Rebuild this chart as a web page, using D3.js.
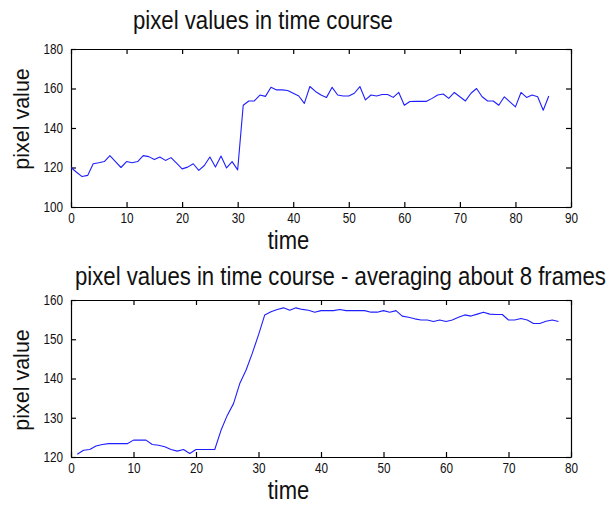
<!DOCTYPE html>
<html>
<head>
<meta charset="utf-8">
<script src="https://cdn.jsdelivr.net/npm/d3@7"></script>
<style>
  html, body { margin: 0; padding: 0; background: #fff; }
  svg { display: block; }
  text { font-family: "Liberation Sans", Arial, sans-serif; fill: #111; }
  .domain, .tick line { stroke: #000; }
</style>
</head>
<body>
<svg id="chart" width="614" height="506"></svg>
<script>
// Raw pixel intensity per frame (frames 0..86)
const rawTime = d3.range(0, 87);
const rawValues = [
  120, 117.6, 115.4, 116, 121.9, 122.4, 123, 126, 123, 120,
  123, 122.4, 123, 126, 125.5, 124, 125.3, 123.6, 125, 122.2,
  119.3, 120.2, 121.9, 118.5, 121, 125.3, 120.2, 125.8, 119.8, 123,
  118.8, 151.5, 153.7, 153.7, 156.7, 156, 160.6, 159.3, 159.3, 159,
  157.6, 156.2, 152.5, 161, 158.5, 156.7, 155.5, 160.6, 156.7, 156.2,
  156.2, 157.6, 161, 154.2, 156.7, 156.2, 157, 157, 155.5, 158,
  151.5, 153.4, 153.5, 153.5, 153.5, 155, 156.7, 157.2, 155, 158,
  155.8, 153.7, 157.6, 160, 155.8, 153.7, 153.7, 151.5, 155.8, 153.2,
  150.7, 158, 155.5, 156.7, 155.8, 149, 156.2
];

// Moving average over ~8 frames (samples 1..78)
const avgTime = d3.range(1, 79);
const avgValues = [
  120.7, 121.7, 121.9, 122.8, 123.2, 123.4, 123.4, 123.4, 123.4, 124.3,
  124.3, 124.3, 123.2, 123, 122.6, 121.9, 121.5, 121.9, 120.9, 121.9,
  121.9, 121.9, 121.9, 126.8, 130.6, 133.6, 138.7, 142.1, 146.4, 151.1,
  156.2, 157, 157.6, 158, 157.4, 158, 157.6, 157.4, 156.9, 157.3,
  157.3, 157.3, 157.6, 157.3, 157.3, 157.3, 157.3, 156.9, 156.9, 157.3,
  156.9, 157.3, 155.9, 155.6, 155.2, 154.9, 154.9, 154.5, 154.9, 154.5,
  154.9, 155.6, 156.2, 155.9, 156.4, 156.9, 156.4, 156.3, 156.3, 154.9,
  154.9, 155.3, 154.9, 154, 154, 154.6, 154.9, 154.5
];

// Tick values for each panel
const rawXTicks = [0, 10, 20, 30, 40, 50, 60, 70, 80, 90];
const rawYTicks = [100, 120, 140, 160, 180];
const avgXTicks = [0, 10, 20, 30, 40, 50, 60, 70, 80];
const avgYTicks = [120, 130, 140, 150, 160];

const titles = ["pixel values in time course",
                "pixel values in time course - averaging about 8 frames"];
const xLabel = "time";
const yLabel = "pixel value";

const svg = d3.select("#chart");
const SQ = 0.84;  // narrow-glyph squeeze used for tick labels
const TSQ = 0.88; // squeeze for titles and x labels

function panel(cfg) {
  const x = d3.scaleLinear().domain(cfg.xDomain).range([cfg.left, cfg.right]);
  const y = d3.scaleLinear().domain(cfg.yDomain).range([cfg.bottom, cfg.top]);
  const g = svg.append("g");

  // bottom axis with labels, ticks pointing inward
  const bx = g.append("g").attr("transform", `translate(0,${cfg.bottom})`)
    .call(d3.axisBottom(x).tickValues(cfg.xTicks).tickSizeInner(-5).tickSizeOuter(0).tickPadding(6).tickFormat(d3.format("d")));
  // top axis, ticks only
  g.append("g").attr("transform", `translate(0,${cfg.top})`)
    .call(d3.axisTop(x).tickValues(cfg.xTicks).tickSizeInner(-5).tickSizeOuter(0).tickFormat(""));
  // left axis with labels
  const ly = g.append("g").attr("transform", `translate(${cfg.left},0)`)
    .call(d3.axisLeft(y).tickValues(cfg.yTicks).tickSizeInner(-5).tickSizeOuter(0).tickPadding(8).tickFormat(d3.format("d")));
  // right axis, ticks only
  g.append("g").attr("transform", `translate(${cfg.right},0)`)
    .call(d3.axisRight(y).tickValues(cfg.yTicks).tickSizeInner(-5).tickSizeOuter(0).tickFormat(""));

  g.selectAll(".domain").attr("stroke-width", 1.2);
  g.selectAll(".tick line").attr("stroke-width", 1.2);

  bx.selectAll("text").attr("font-size", 14).attr("font-family", null)
    .attr("transform", `scale(${SQ},1)`).attr("fill", "#222");
  ly.selectAll("text").attr("font-size", 14).attr("font-family", null)
    .attr("x", -8 / SQ).attr("transform", `scale(${SQ},1)`).attr("fill", "#222");

  // data line
  const line = d3.line().x((d, i) => x(cfg.xs[i])).y(d => y(d));
  g.append("path").datum(cfg.values)
    .attr("fill", "none").attr("stroke", "#1f1fff").attr("stroke-width", 1.1)
    .attr("stroke-linejoin", "round").attr("d", line);

  // title
  g.append("text")
    .attr("transform", `translate(${cfg.titleX},${cfg.titleY}) scale(${TSQ},1)`)
    .attr("font-size", 25.2)
    .text(cfg.title);
  // x label
  g.append("text")
    .attr("transform", `translate(288.5,${cfg.bottom + 42}) scale(${TSQ},1)`)
    .attr("text-anchor", "middle").attr("font-size", 25)
    .text(xLabel);
  // y label
  g.append("text").attr("transform", `translate(29,${cfg.yLabelY}) rotate(-90)`)
    .attr("text-anchor", "middle").attr("font-size", 21.5)
    .text(yLabel);
}

panel({
  xs: rawTime, values: rawValues,
  xDomain: [0, 90], yDomain: [100, 180],
  xTicks: rawXTicks, yTicks: rawYTicks,
  left: 71, right: 571, top: 49, bottom: 207,
  title: titles[0], titleX: 133, titleY: 29,
  yLabelY: 119
});

panel({
  xs: avgTime, values: avgValues,
  xDomain: [0, 80], yDomain: [120, 160],
  xTicks: avgXTicks, yTicks: avgYTicks,
  left: 71, right: 571, top: 300, bottom: 457,
  title: titles[1], titleX: 75, titleY: 285,
  yLabelY: 380
});
</script>
</body>
</html>
